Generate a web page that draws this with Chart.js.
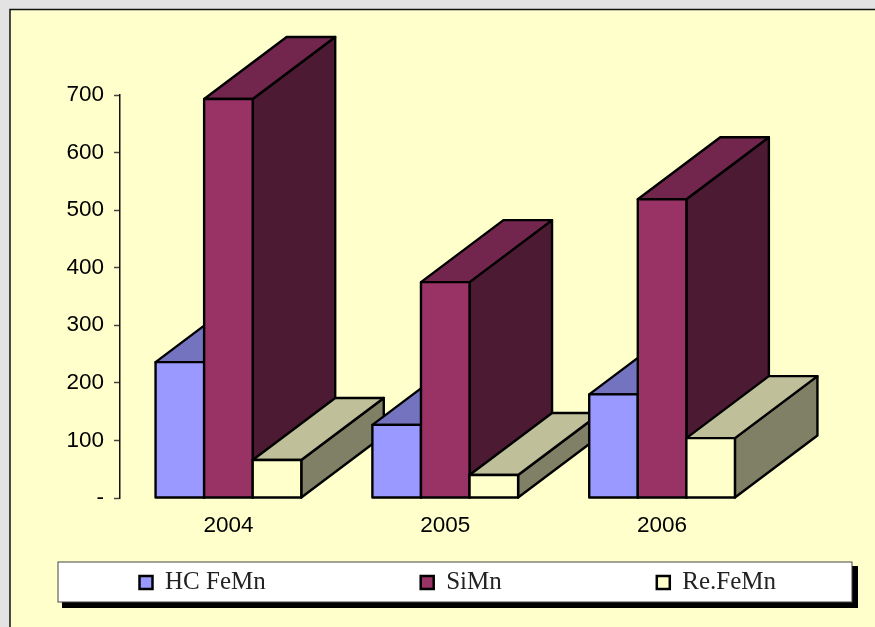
<!DOCTYPE html>
<html>
<head>
<meta charset="utf-8">
<style>html,body{margin:0;padding:0;background:#e3e3e3;overflow:hidden}canvas{display:block}</style>
<script src="https://cdn.jsdelivr.net/npm/chart.js@4"></script>
</head>
<body>
<canvas id="c" width="875" height="627"></canvas>
<script>
const categories = ['2004', '2005', '2006'];
const seriesNames = ['HC FeMn', 'SiMn', 'Re.FeMn'];
const hcFeMn = [236, 127, 180];
const siMn = [693, 375, 519];
const reFeMn = [66, 40, 104];
const yTickValues = [0, 100, 200, 300, 400, 500, 600, 700];
const yTickLabels = ['-', '100', '200', '300', '400', '500', '600', '700'];

const frontColors = ['#9999FF', '#993366', '#FFFFCC'];
const topColors = ['#7373BF', '#73264D', '#BFBF99'];
const sideColors = ['#4D4D80', '#4D1A33', '#808066'];
const DEPTH_X = 82.5, DEPTH_Y = -62;

function poly(ctx, pts, fill) {
  ctx.beginPath();
  ctx.moveTo(pts[0][0], pts[0][1]);
  for (let i = 1; i < pts.length; i++) ctx.lineTo(pts[i][0], pts[i][1]);
  ctx.closePath();
  ctx.fillStyle = fill;
  ctx.fill();
  ctx.stroke();
}

const depthBars = {
  id: 'depthBars',
  beforeLayout(chart) {
    const lg = chart.legend;
    if (lg && !lg._patched) {
      lg._patched = true;
      const fit = lg.fit;
      lg.fit = function () {
        this.maxWidth = 3000;
        fit.call(this);
        this.height = 0;
      };
    }
  },
  beforeDraw(chart) {
    const ctx = chart.ctx;
    ctx.save();
    ctx.fillStyle = '#e3e3e3';
    ctx.fillRect(0, 0, 875, 627);
    ctx.fillStyle = '#FFFFCC';
    ctx.fillRect(10, 10, 870, 622);
    ctx.strokeStyle = '#111';
    ctx.lineWidth = 1.5;
    ctx.strokeRect(10, 9.5, 870, 622);
    ctx.fillStyle = '#000';
    ctx.fillRect(62, 566, 796, 42);
    ctx.fillStyle = '#fff';
    ctx.fillRect(58, 562, 794, 40);
    ctx.strokeStyle = '#444';
    ctx.lineWidth = 1;
    ctx.strokeRect(58, 562, 794, 40);
    ctx.restore();
    const lg = chart.legend;
    const pad = lg.options.labels.padding;
    lg.left = 139.5 - pad;
    lg.right = 3000;
    lg.top = 570 - pad;
    lg.bottom = 627;
    lg.width = 3000;
    lg.height = 3000;
  },
  beforeDatasetsDraw(chart) {
    const ctx = chart.ctx;
    ctx.save();
    ctx.lineJoin = 'round';
    ctx.strokeStyle = '#000';
    ctx.lineWidth = 2.4;
    categories.forEach((_, i) => {
      chart.data.datasets.forEach((_, d) => {
        const el = chart.getDatasetMeta(d).data[i];
        const l = el.x - el.width / 2, r = el.x + el.width / 2, t = el.y, b = el.base;
        poly(ctx, [[r, b], [r + DEPTH_X, b + DEPTH_Y], [r + DEPTH_X, t + DEPTH_Y], [r, t]], sideColors[d]);
        poly(ctx, [[l, t], [l + DEPTH_X, t + DEPTH_Y], [r + DEPTH_X, t + DEPTH_Y], [r, t]], topColors[d]);
        el.draw(ctx);
        ctx.strokeRect(l, t, r - l, b - t);
      });
    });
    ctx.restore();
  },
  beforeDatasetDraw() { return false; }
};

new Chart(document.getElementById('c'), {
  type: 'bar',
  data: {
    labels: categories,
    datasets: [
      { label: seriesNames[0], data: hcFeMn, backgroundColor: frontColors[0] },
      { label: seriesNames[1], data: siMn, backgroundColor: frontColors[1] },
      { label: seriesNames[2], data: reFeMn, backgroundColor: frontColors[2] }
    ]
  },
  options: {
    responsive: false,
    animation: false,
    devicePixelRatio: 1,
    layout: { padding: { left: 50, top: 95, right: 104.5, bottom: 89 } },
    datasets: { bar: { categoryPercentage: 0.672, barPercentage: 1, borderWidth: 0 } },
    scales: {
      x: {
        afterFit(s) { s.height = 40; },
        grid: { display: false },
        border: { display: false },
        ticks: { color: '#000', padding: 6, maxRotation: 0, font: { family: '"Liberation Sans", Arial, sans-serif', size: 22.5 } }
      },
      y: {
        min: 0,
        max: 700,
        afterFit(s) { s.width = 70; },
        afterBuildTicks(s) { s.ticks = yTickValues.map(v => ({ value: v })); },
        border: { display: true, color: '#111', width: 1.5 },
        grid: { drawOnChartArea: false, drawTicks: true, tickLength: 6, tickColor: '#444', tickWidth: 1.5 },
        ticks: {
          color: '#000',
          padding: 10,
          callback(v) { return yTickLabels[yTickValues.indexOf(v)]; },
          font: { family: '"Liberation Sans", Arial, sans-serif', size: 22.5 }
        }
      }
    },
    plugins: {
      title: { display: false },
      tooltip: { enabled: false },
      legend: {
        display: true,
        position: 'bottom',
        align: 'start',
        labels: {
          padding: 155,
          boxWidth: 13,
          boxHeight: 13,
          color: '#222',
          font: { family: '"Liberation Serif", serif', size: 25 },
          generateLabels(chart) {
            return chart.data.datasets.map((d, i) => ({
              text: d.label,
              fillStyle: d.backgroundColor,
              strokeStyle: '#000',
              lineWidth: 2.5,
              fontColor: '#222',
              hidden: false,
              datasetIndex: i
            }));
          }
        }
      }
    }
  },
  plugins: [depthBars]
});
</script>
</body>
</html>
